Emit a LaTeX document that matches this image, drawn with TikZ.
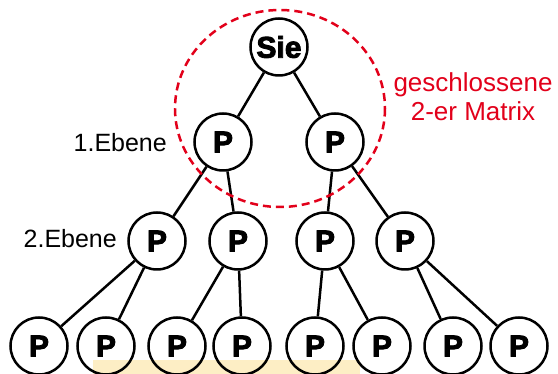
\documentclass[tikz,border=0pt]{standalone}
\usepackage{fontspec}
\setmainfont{Liberation Sans}
\newfontfamily\heavyfont[FakeBold=3]{Liberation Sans Bold}
\definecolor{dbred}{HTML}{E2001A}
\definecolor{hiyellow}{HTML}{FDEEC5}
\begin{document}
\begin{tikzpicture}[x=1pt,y=-1pt,
  pnode/.style={circle,draw=black,line width=2.5pt,minimum size=57pt,inner sep=0pt,
    font=\heavyfont\fontsize{30}{30}\selectfont},
  edge/.style={line width=2.5pt,draw=black},
  lvl/.style={font=\fontsize{25}{29}\selectfont,anchor=east,inner sep=0pt},
  redtxt/.style={font=\fontsize{26}{29}\selectfont,text=dbred,align=center,inner sep=0pt}]
\useasboundingbox (0,0) rectangle (558,374);
\clip (0,0) rectangle (558,374);
% highlight
\fill[hiyellow] (93,360) rectangle (360,380);
% nodes
\node[pnode] (sie) at (279,47) {Sie};
\node[pnode] (a1) at (223,142) {P};
\node[pnode] (a2) at (335,142) {P};
\node[pnode] (b1) at (157,241) {P};
\node[pnode] (b2) at (238,241) {P};
\node[pnode] (b3) at (325,241) {P};
\node[pnode] (b4) at (405,241) {P};
\node[pnode] (c1) at (39,346) {P};
\node[pnode] (c2) at (106,346) {P};
\node[pnode] (c3) at (177,346) {P};
\node[pnode] (c4) at (242,346) {P};
\node[pnode] (c5) at (315,346) {P};
\node[pnode] (c6) at (382,346) {P};
\node[pnode] (c7) at (453,346) {P};
\node[pnode] (c8) at (519,346) {P};
% edges
\draw[edge] (sie) -- (a1);
\draw[edge] (sie) -- (a2);
\draw[edge] (a1) -- (b1);
\draw[edge] (a1) -- (b2);
\draw[edge] (a2) -- (b3);
\draw[edge] (a2) -- (b4);
\draw[edge] (b1) -- (c1);
\draw[edge] (b1) -- (c2);
\draw[edge] (b2) -- (c3);
\draw[edge] (b2) -- (c4);
\draw[edge] (b3) -- (c5);
\draw[edge] (b3) -- (c6);
\draw[edge] (b4) -- (c7);
\draw[edge] (b4) -- (c8);
% labels
\node[lvl] (l1) at (167,143) {1.Ebene};
\node[lvl] (l2) at (117,239) {2.Ebene};
\node[redtxt] (rt) at (473,97) {geschlossene\\2-er Matrix};
% closed matrix
\draw[dbred,line width=2.5pt,dash pattern=on 8pt off 5pt] (280,108.5) ellipse [x radius=105, y radius=98.5];
\end{tikzpicture}
\end{document}
